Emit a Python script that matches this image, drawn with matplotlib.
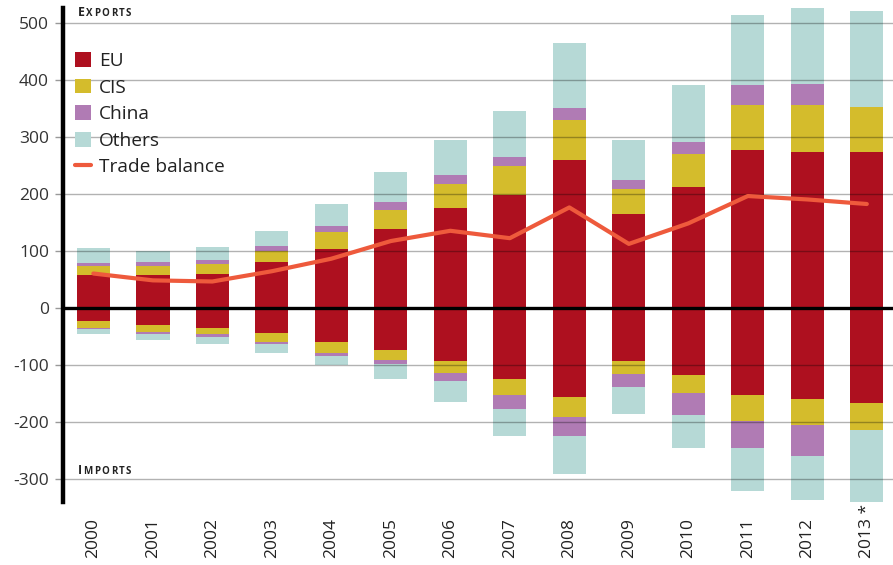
import matplotlib
matplotlib.use("Agg")
import matplotlib.pyplot as plt
import numpy as np
from matplotlib.offsetbox import TextArea, HPacker, AnchoredOffsetbox

years = ["2000", "2001", "2002", "2003", "2004", "2005", "2006", "2007",
         "2008", "2009", "2010", "2011", "2012", "2013 *"]

# Exports (positive)
eu_exp = [58, 58, 60, 80, 103, 139, 175, 198, 260, 164, 211, 277, 273, 274]
cis_exp = [15, 16, 17, 20, 30, 32, 42, 51, 69, 44, 59, 78, 83, 79]
china_exp = [6, 6, 7, 8, 10, 14, 16, 15, 21, 17, 20, 35, 37, 0]
others_exp = [26, 20, 22, 27, 39, 53, 62, 82, 114, 70, 101, 123, 133, 168]

# Imports (magnitudes, drawn downward)
eu_imp = [23, 30, 35, 45, 60, 74, 93, 125, 157, 94, 118, 153, 160, 167]
cis_imp = [13, 13, 12, 15, 20, 18, 22, 28, 34, 22, 31, 45, 46, 48]
china_imp = [2, 3, 4, 3, 5, 7, 13, 25, 35, 23, 39, 48, 54, 0]
others_imp = [9, 10, 12, 17, 15, 27, 38, 48, 65, 47, 59, 75, 78, 128]

trade_balance = [60, 48, 46, 64, 86, 117, 135, 122, 176, 112, 148, 196, 190, 182]

series_names = ["EU", "CIS", "China", "Others"]
colors = ["#AE101F", "#D4BC2C", "#B07BB4", "#B6D9D6"]
line_color = "#EE5A3C"

FONT = "Open Sans"
plt.rcParams['font.family'] = [FONT, 'DejaVu Sans']
plt.rcParams['axes.unicode_minus'] = False

fig = plt.figure(figsize=(8.93, 5.65), dpi=100)
W, H = 893, 565
left, right, top, bottom = 63, 893, 8, 502
ax = fig.add_axes([left / W, 1 - bottom / H, (right - left) / W, (bottom - top) / H])

x = np.arange(len(years))
bw = 0.56

exp = [eu_exp, cis_exp, china_exp, others_exp]
imp = [eu_imp, cis_imp, china_imp, others_imp]

base = np.zeros(len(years))
handles = []
for vals, c, n in zip(exp, colors, series_names):
    v = np.array(vals, dtype=float)
    h = ax.bar(x, v, bw, bottom=base, color=c, label=n, zorder=2, linewidth=0)
    handles.append(h)
    base += v
base = np.zeros(len(years))
for vals, c in zip(imp, colors):
    v = np.array(vals, dtype=float)
    ax.bar(x, -v, bw, bottom=-base, color=c, zorder=2, linewidth=0)
    base += v

ln, = ax.plot(x, trade_balance, color=line_color, lw=3.0, zorder=4,
              solid_capstyle='round', solid_joinstyle='round', label="Trade balance")
handles.append(ln)

ax.set_xlim(-0.51, 13.44)
ax.set_ylim(-341, 526)
yt = np.arange(-300, 501, 100)
ax.set_yticks(yt)
ax.set_yticklabels([str(v) for v in yt], fontsize=12.5, color="#333333")
for v in yt:
    if v != 0:
        ax.axhline(v, color="black", alpha=0.3, lw=1.0, zorder=3)
ax.axhline(0, color="black", lw=2.4, zorder=5)

ax.tick_params(axis='y', length=6, width=1, color="#999999", pad=4)
ax.set_xticks(x)
ax.set_xticklabels(years, rotation=90, fontsize=12.5, color="#222222", va='bottom')
ax.tick_params(axis='x', length=0, pad=40)

for s in ["top", "right", "bottom"]:
    ax.spines[s].set_visible(False)
ax.spines["left"].set_linewidth(3.2)
ax.spines["left"].set_color("black")
ax.spines["left"].set_zorder(6)

leg = ax.legend(handles=handles, labels=series_names + ["Trade balance"],
                loc="upper left", bbox_to_anchor=(75 / W, 1 - 52 / H),
                bbox_transform=fig.transFigure, frameon=False, fontsize=13.8,
                handlelength=0.82, handleheight=0.82, handletextpad=0.45,
                labelspacing=0.44, borderpad=0, borderaxespad=0)
for t in leg.get_texts():
    t.set_color("#222222")

def small_caps(word, xpix, ypix):
    kids = [TextArea(word[0], textprops=dict(fontsize=8.8, fontweight='bold', color="#222222"))]
    for ch in word[1:]:
        kids.append(TextArea(ch, textprops=dict(fontsize=7.0, fontweight='bold', color="#222222")))
    box = HPacker(children=kids, align="baseline", pad=0, sep=1.0)
    ab = AnchoredOffsetbox(loc="upper left", child=box, pad=0, borderpad=0, frameon=False,
                           bbox_to_anchor=(xpix / W, 1 - ypix / H),
                           bbox_transform=fig.transFigure)
    ax.add_artist(ab)

small_caps("EXPORTS", 78, 6)
small_caps("IMPORTS", 78, 464)

fig.savefig("out.png", dpi=100)
